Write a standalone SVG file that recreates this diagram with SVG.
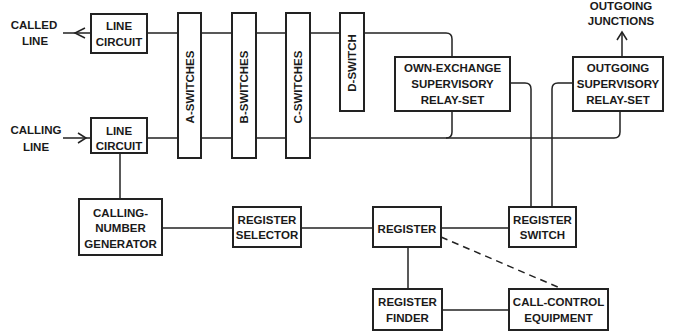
<svg xmlns="http://www.w3.org/2000/svg" width="673" height="334" viewBox="0 0 673 334">
<style>
.box{fill:#fff;stroke:#222;stroke-width:2}
.ln{fill:none;stroke:#222;stroke-width:1.5}
.dash{fill:none;stroke:#222;stroke-width:1.5;stroke-dasharray:7 5}
text{font-family:"Liberation Sans",Arial,sans-serif;font-weight:bold;font-size:11.5px;fill:#1a1a1a;text-anchor:middle}
</style>
<rect width="673" height="334" fill="#fff"/>
<g id="connectors">
<path class="ln" d="M63 33H91"/>
<path class="ln" d="M85 28L75 33L85 38"/>
<path class="ln" d="M63 138H91"/>
<path class="ln" d="M78 133L86 138L78 143"/>
<path class="ln" d="M147 33H446Q452 33 452 39V57"/>
<path class="ln" d="M147 138H614Q620 138 620 132V111"/>
<path class="ln" d="M452 111V132Q452 138 446 138"/>
<path class="ln" d="M510 83H525Q531 83 531 89V207"/>
<path class="ln" d="M573 83H558Q552 83 552 89V207"/>
<path class="ln" d="M622 57V32"/>
<path class="ln" d="M617 40L622 32L627 40"/>
<path class="ln" d="M120 153V199"/>
<path class="ln" d="M162 228H233"/>
<path class="ln" d="M301 228H373"/>
<path class="ln" d="M441 228H509"/>
<path class="ln" d="M408 247V289"/>
<path class="ln" d="M442 310H509"/>
<path class="dash" d="M441 237L560 288"/>
</g>
<g id="called-line-label">
<text x="34" y="29">CALLED</text>
<text x="35" y="45">LINE</text>
</g>
<g id="calling-line-label">
<text x="36" y="134">CALLING</text>
<text x="36" y="151">LINE</text>
</g>
<g id="outgoing-junctions-label">
<text x="621" y="10">OUTGOING</text>
<text x="621" y="25">JUNCTIONS</text>
</g>
<g id="line-circuit-called">
<rect class="box" x="91" y="14" width="56" height="39"/>
<text x="119" y="30">LINE</text>
<text x="119" y="46">CIRCUIT</text>
</g>
<g id="line-circuit-calling">
<rect class="box" x="91" y="118" width="56" height="35"/>
<text x="119" y="135">LINE</text>
<text x="119" y="150">CIRCUIT</text>
</g>
<g id="a-switches">
<rect class="box" x="178" y="13" width="23" height="145"/>
<text transform="translate(193.5 87) rotate(-90)">A-SWITCHES</text>
</g>
<g id="b-switches">
<rect class="box" x="232" y="13" width="24" height="145"/>
<text transform="translate(248 87) rotate(-90)">B-SWITCHES</text>
</g>
<g id="c-switches">
<rect class="box" x="286" y="13" width="24" height="145"/>
<text transform="translate(302 87) rotate(-90)">C-SWITCHES</text>
</g>
<g id="d-switch">
<rect class="box" x="340" y="13" width="24" height="98"/>
<text transform="translate(356 63) rotate(-90)">D-SWITCH</text>
</g>
<g id="own-exchange-relay-set">
<rect class="box" x="395" y="57" width="115" height="54"/>
<text x="452.5" y="72">OWN-EXCHANGE</text>
<text x="452.5" y="88">SUPERVISORY</text>
<text x="452.5" y="104">RELAY-SET</text>
</g>
<g id="outgoing-relay-set">
<rect class="box" x="573" y="57" width="90" height="54"/>
<text x="618" y="72">OUTGOING</text>
<text x="618" y="88">SUPERVISORY</text>
<text x="618" y="104">RELAY-SET</text>
</g>
<g id="calling-number-generator">
<rect class="box" x="79" y="199" width="83" height="56"/>
<text x="120.5" y="217">CALLING-</text>
<text x="120.5" y="232">NUMBER</text>
<text x="120.5" y="248">GENERATOR</text>
</g>
<g id="register-selector">
<rect class="box" x="233" y="207" width="68" height="40"/>
<text x="267" y="224">REGISTER</text>
<text x="267" y="239">SELECTOR</text>
</g>
<g id="register">
<rect class="box" x="373" y="207" width="68" height="40"/>
<text x="407" y="233">REGISTER</text>
</g>
<g id="register-switch">
<rect class="box" x="509" y="207" width="67" height="40"/>
<text x="542.5" y="224">REGISTER</text>
<text x="542.5" y="239">SWITCH</text>
</g>
<g id="register-finder">
<rect class="box" x="373" y="289" width="69" height="41"/>
<text x="407.5" y="306">REGISTER</text>
<text x="407.5" y="322">FINDER</text>
</g>
<g id="call-control-equipment">
<rect class="box" x="509" y="289" width="99" height="41"/>
<text x="558.5" y="306">CALL-CONTROL</text>
<text x="558.5" y="322">EQUIPMENT</text>
</g>
</svg>
